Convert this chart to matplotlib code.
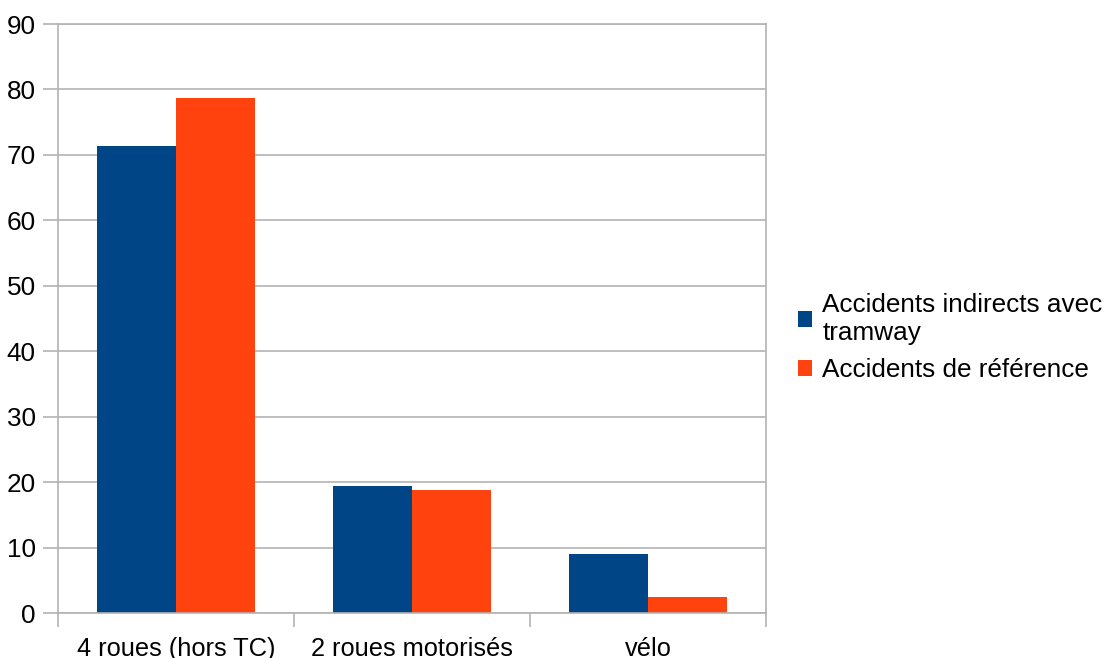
import numpy as np
import matplotlib.pyplot as plt

# Data
categories = ['4 roues (hors TC)', '2 roues motorisés', 'vélo']
indirects = [71.4, 19.4, 9.0]
reference = [78.7, 18.8, 2.5]
series_names = ['Accidents indirects avec\ntramway', 'Accidents de référence']
y_ticks = [0, 10, 20, 30, 40, 50, 60, 70, 80, 90]

blue = '#004586'
orange = '#ff420e'
grey = '#b3b3b3'

plt.rcParams['font.family'] = ['Liberation Sans', 'DejaVu Sans']

fig = plt.figure(figsize=(11.04, 6.58), dpi=100)
ax = fig.add_axes([0.0525, 0.0679, 0.6413, 0.8956])

x = np.arange(len(categories))
w = 0.335
ax.bar(x - w / 2, indirects, w, color=blue, label=series_names[0], zorder=2)
ax.bar(x + w / 2, reference, w, color=orange, label=series_names[1], zorder=2)

ax.set_xlim(-0.5, len(categories) - 0.5)
ax.set_ylim(0, 90)
ax.set_yticks(y_ticks)
ax.yaxis.grid(True, color=grey, linewidth=1.2, zorder=0)

# category labels centred, tick marks at the boundaries
ax.set_xticks(x)
ax.set_xticklabels(categories)
ax.set_xticks(np.arange(len(categories) + 1) - 0.5, minor=True)
ax.tick_params(axis='x', which='major', length=0, pad=17, labelsize=18.3)
ax.tick_params(axis='x', which='minor', length=10, width=1.2, color=grey)
ax.tick_params(axis='y', length=11, width=1.2, color=grey, pad=5, labelsize=18.8)

for s in ax.spines.values():
    s.set_color(grey)
    s.set_linewidth(1.2)

leg = ax.legend(loc='center left', bbox_to_anchor=(1.03, 0.468), frameon=False,
                fontsize=18.8, handlelength=0.55, handleheight=0.55, handletextpad=0.4,
                labelspacing=0.5, borderaxespad=0)
for t in leg.get_texts():
    t.set_linespacing(1.25)

fig.savefig('out.png', dpi=100)
